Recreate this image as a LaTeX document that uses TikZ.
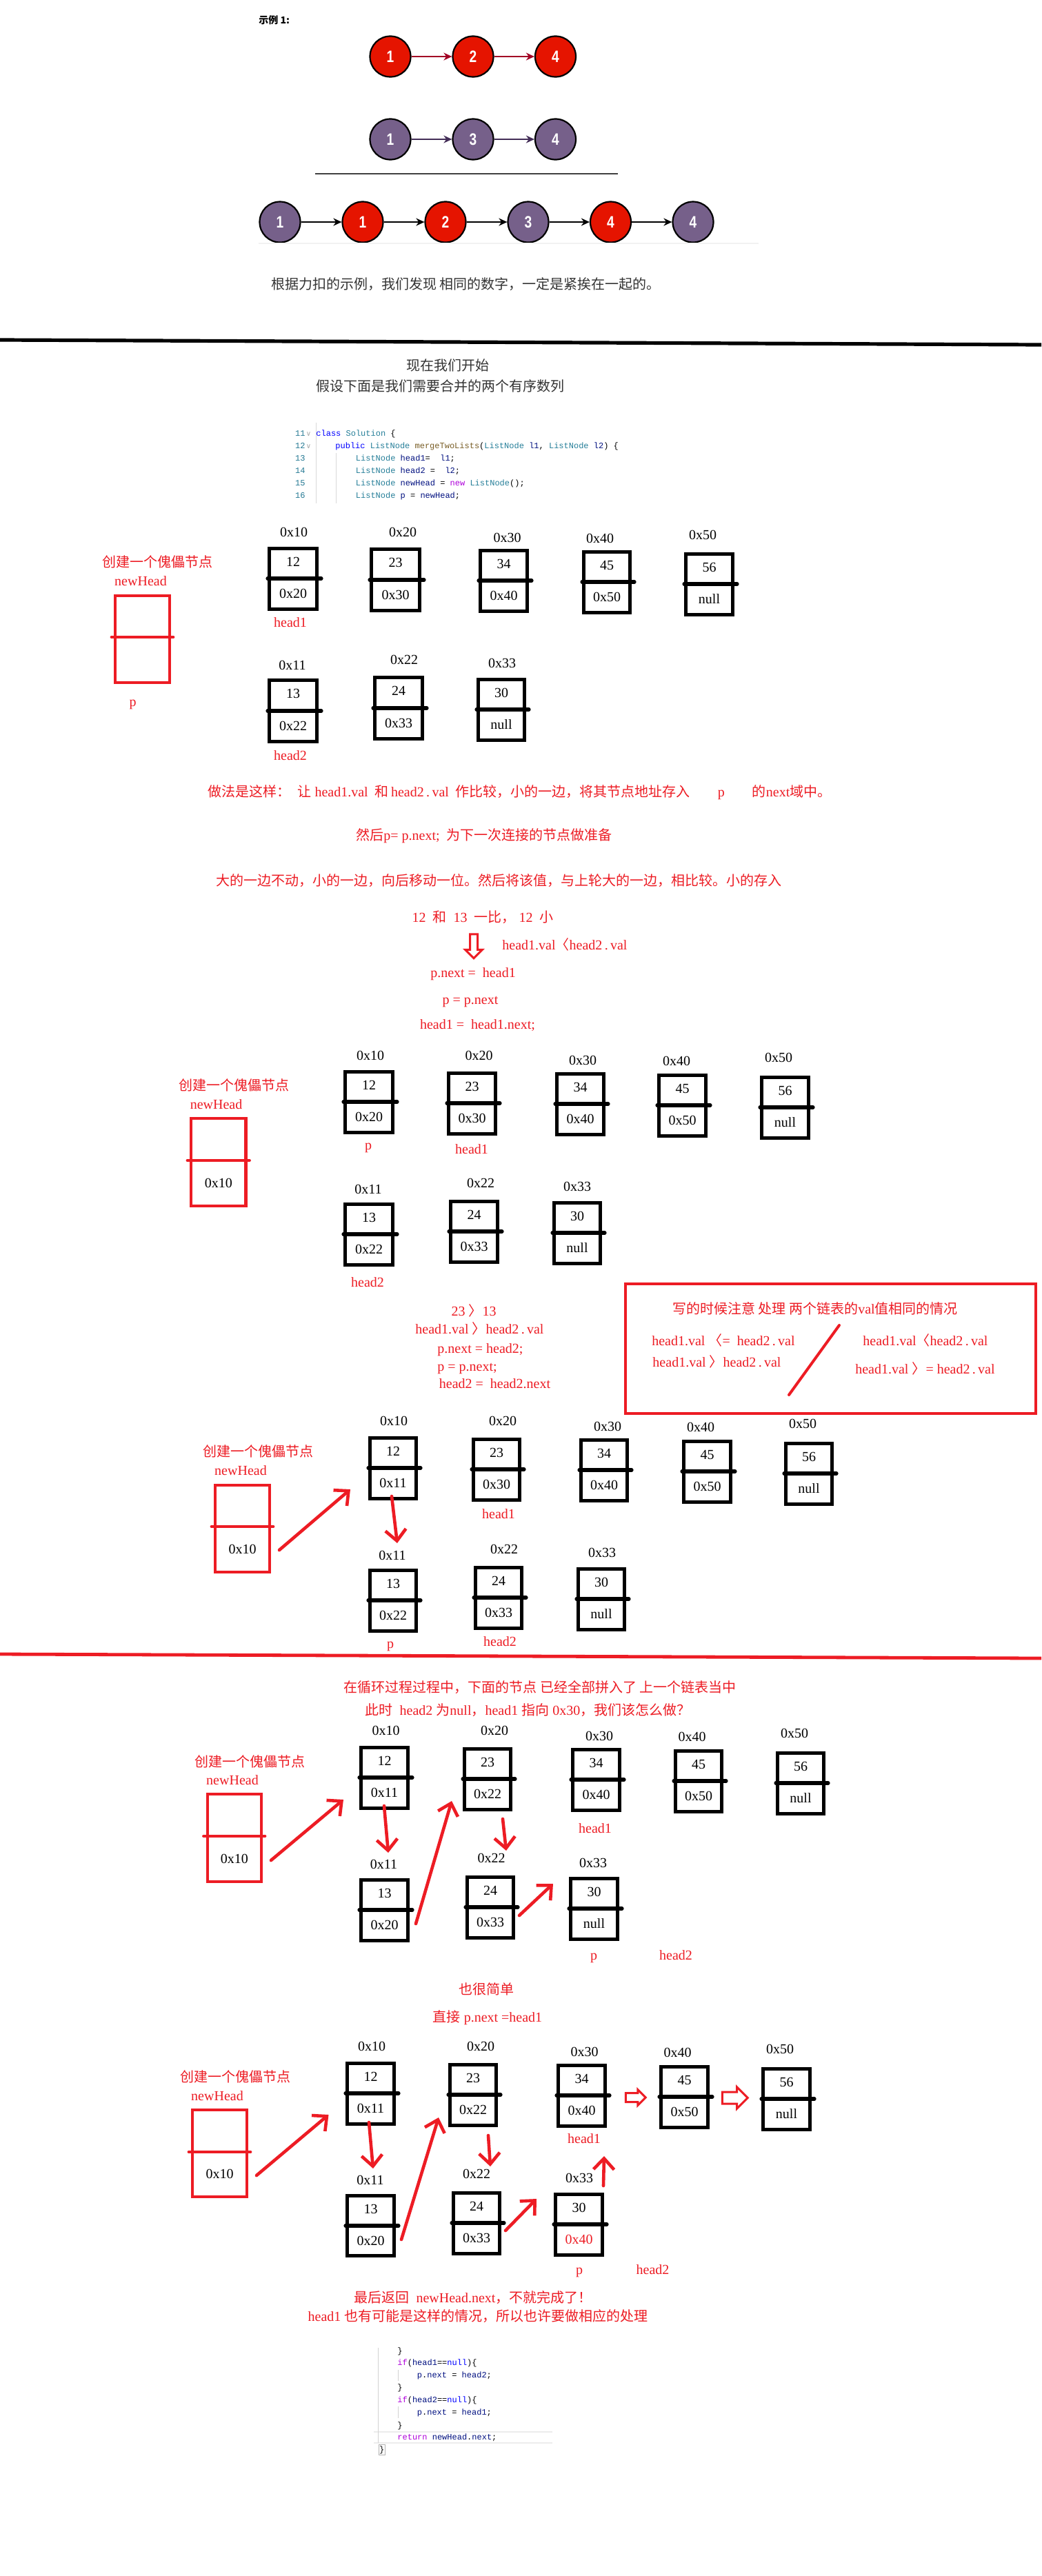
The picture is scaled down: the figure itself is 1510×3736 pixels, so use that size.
\documentclass[tikz,border=0pt]{standalone}
\usepackage{fontspec}
\setmainfont{Liberation Serif}
\newfontfamily\cjk{Noto Sans CJK SC}
\newfontfamily\codefont{Liberation Mono}
\newfontfamily\numfont{Liberation Sans}[FakeStretch=0.8]
\newfontfamily\symfont{DejaVu Sans}
\usetikzlibrary{arrows.meta,shapes.arrows}
\definecolor{pred}{RGB}{237,28,36}
\definecolor{cred}{HTML}{E51400}
\definecolor{cpur}{HTML}{76608A}
\definecolor{adred}{HTML}{A20025}
\definecolor{adpur}{HTML}{432D57}
\definecolor{kwblue}{HTML}{0000FF}
\definecolor{tyteal}{HTML}{267F99}
\definecolor{fnbrown}{HTML}{795E26}
\definecolor{varblue}{HTML}{001080}
\definecolor{kwpurp}{HTML}{AF00DB}
\definecolor{lnum}{HTML}{237893}
\definecolor{txtgray}{HTML}{333333}
\newcommand\zh[1]{{\cjk #1}}
\tikzset{
  lbl/.style={inner sep=0pt, text height=7pt, text depth=1.8pt, font=\fontsize{10pt}{12pt}\selectfont},
  rtxt/.style={lbl, text=pred},
  zhtxt/.style={lbl, font=\cjk\fontsize{10pt}{12pt}\selectfont},
  rzh/.style={zhtxt, text=pred},
  llbox/.style={draw=black, line width=2.6pt, inner sep=0pt, outer sep=0pt},
  lldiv/.style={draw=black, line width=2.6pt, line cap=round},
  dmbox/.style={draw=pred, line width=2.2pt, inner sep=0pt, outer sep=0pt},
  dmdiv/.style={draw=pred, line width=2.4pt, line cap=round},
  circR/.style={circle, draw=black, line width=1.1pt, fill=cred, minimum size=29.5pt, inner sep=0pt, text=white, font=\numfont\bfseries\fontsize{12pt}{14pt}\selectfont},
  circP/.style={circR, fill=cpur},
  carrow/.style={line width=1pt, -{Stealth[length=6pt,width=5.5pt]}},
  rarrow/.style={draw=pred, line width=2.3pt, line cap=round, line join=round, -{Straight Barb[length=8pt,width=15pt]}},
  hollow/.style={single arrow, draw=pred, fill=white, line width=1.5pt, single arrow head indent=0pt},
  codetxt/.style={inner sep=0pt, anchor=west, text height=5pt, text depth=1.4pt, font=\codefont\fontsize{6pt}{7pt}\selectfont},
}
% name, x1, y1, x2, y2, ydiv, top, bottom
\newcommand\ListBox[8]{%
  \node[llbox, minimum width={(#4-#2)*0.5pt-2.6pt}, minimum height={(#5-#3)*0.5pt-2.6pt}] (#1) at ({(#2+#4)/2},{(#3+#5)/2}) {};
  \draw[lldiv] (#2,#6) -- ({#4+4},#6);
  \node[lbl] (#1v) at ({(#2+#4)/2},{(#3+#6)/2}) {#7};
  \node[lbl] (#1n) at ({(#2+#4)/2},{(#6+#5)/2}) {#8};
}
% name, x1, y1, x2, y2, ydiv, bottom
\newcommand\DummyBox[7]{%
  \node[dmbox, minimum width={(#4-#2)*0.5pt-2.2pt}, minimum height={(#5-#3)*0.5pt-2.2pt}] (#1) at ({(#2+#4)/2},{(#3+#5)/2}) {};
  \draw[dmdiv] ({#2-3},#6) -- ({#4+3},#6);
  \node[lbl] (#1n) at ({(#2+#4)/2},{(#6+#5)/2}) {#7};
}
\begin{document}
\begin{tikzpicture}[x=0.5pt,y=-0.5pt]
\fill[white] (0,0) rectangle (1510,3736);
\useasboundingbox (0,0) rectangle (1510,3736);

% ---------------- example 1 ----------------
\node[inner sep=0pt, anchor=west, font=\cjk\bfseries\fontsize{7pt}{8pt}\selectfont] (ex1) at (375,29) {示例 1:};
\node[circR] (r1) at (566,82) {1};
\node[circR] (r2) at (686,82) {2};
\node[circR] (r4) at (805.5,82) {4};
\draw[carrow, adred] (r1) -- (r2);
\draw[carrow, adred] (r2) -- (r4);
\node[circP] (q1) at (566,202) {1};
\node[circP] (q3) at (686,202) {3};
\node[circP] (q4) at (805.5,202) {4};
\draw[carrow, adpur] (q1) -- (q3);
\draw[carrow, adpur] (q3) -- (q4);
\draw[line width=1.2pt, black!75] (456.6,252) -- (895.7,252);
\node[circP] (m1) at (406,322) {1};
\node[circR] (m2) at (526,322) {1};
\node[circR] (m3) at (646,322) {2};
\node[circP] (m4) at (766,322) {3};
\node[circR] (m5) at (885.5,322) {4};
\node[circP] (m6) at (1005,322) {4};
\draw[carrow] (m1) -- (m2);
\draw[carrow] (m2) -- (m3);
\draw[carrow] (m3) -- (m4);
\draw[carrow] (m4) -- (m5);
\draw[carrow] (m5) -- (m6);
\draw[gray!10, line width=1pt] (375,353) -- (1100,353);
\node[zhtxt, text=txtgray] (t1) at (675.5,414) {根据力扣的示例，我们发现 相同的数字，一定是紧挨在一起的。};

\draw[line width=2.6pt] (0,493) -- (1510,500);

\node[zhtxt, text=txtgray] (t2) at (649,532) {现在我们开始};
\node[zhtxt, text=txtgray] (t3) at (638,562) {假设下面是我们需要合并的两个有序数列};

% code block 1
\draw[gray!30, line width=0.5pt] (458,613) -- (458,730);
\draw[gray!30, line width=0.5pt] (487.5,657) -- (487.5,730);
\node[codetxt, anchor=east, text=lnum] (l11) at (443,629) {11};
\node[codetxt, anchor=east, text=lnum] (l12) at (443,647) {12};
\node[codetxt, anchor=east, text=lnum] (l13) at (443,665) {13};
\node[codetxt, anchor=east, text=lnum] (l14) at (443,683) {14};
\node[codetxt, anchor=east, text=lnum] (l15) at (443,701) {15};
\node[codetxt, anchor=east, text=lnum] (l16) at (443,719) {16};
\node[codetxt, anchor=center, text=gray!70, font=\symfont\fontsize{5pt}{6pt}\selectfont] (f11) at (447.5,629) {∨};
\node[codetxt, anchor=center, text=gray!70, font=\symfont\fontsize{5pt}{6pt}\selectfont] (f12) at (447.5,647) {∨};
\node[codetxt] (c11) at (458,629) {\textcolor{kwblue}{class} \textcolor{tyteal}{Solution} \{};
\node[codetxt] (c12) at (486,647) {\textcolor{kwblue}{public} \textcolor{tyteal}{ListNode} \textcolor{fnbrown}{mergeTwoLists}(\textcolor{tyteal}{ListNode} \textcolor{varblue}{l1}, \textcolor{tyteal}{ListNode} \textcolor{varblue}{l2}) \{};
\node[codetxt] (c13) at (515.5,665) {\textcolor{tyteal}{ListNode} \textcolor{varblue}{head1}=\ \ \textcolor{varblue}{l1};};
\node[codetxt] (c14) at (515.5,683) {\textcolor{tyteal}{ListNode} \textcolor{varblue}{head2} =\ \ \textcolor{varblue}{l2};};
\node[codetxt] (c15) at (515.5,701) {\textcolor{tyteal}{ListNode} \textcolor{varblue}{newHead} = \textcolor{kwpurp}{new} \textcolor{tyteal}{ListNode}();};
\node[codetxt] (c16) at (515.5,719) {\textcolor{tyteal}{ListNode} \textcolor{varblue}{p} = \textcolor{varblue}{newHead};};

% ---------------- section A ----------------
\node[rzh] (aa) at (228,817) {创建一个傀儡节点};
\node[rtxt] (anh) at (204,844) {newHead};
\DummyBox{adm}{165}{862}{248}{992}{924}{}
\node[rtxt] (ap) at (192.6,1019) {p};
\node[lbl] (aL10) at (426,773) {0x10};
\node[lbl] (aL20) at (584,773) {0x20};
\node[lbl] (aL30) at (735.5,781) {0x30};
\node[lbl] (aL40) at (870,782) {0x40};
\node[lbl] (aL50) at (1019,777) {0x50};
\node[lbl] (aL11) at (424,966) {0x11};
\node[lbl] (aL22) at (586,958) {0x22};
\node[lbl] (aL33) at (728,963) {0x33};
\ListBox{a10}{388}{793}{462}{886}{839}{12}{0x20}
\ListBox{a20}{536}{794}{611}{888}{841}{23}{0x30}
\ListBox{a30}{694}{796}{767}{889}{842}{34}{0x40}
\ListBox{a40}{844}{798}{916}{891}{844}{45}{0x50}
\ListBox{a50}{992}{801}{1065}{894}{847}{56}{null}
\ListBox{a11}{388}{984}{462}{1078}{1031}{13}{0x22}
\ListBox{a22}{541}{980}{615}{1074}{1027}{24}{0x33}
\ListBox{a33}{691}{983}{763}{1076}{1029}{30}{null}
\node[rtxt] (ah1) at (421,904) {head1};
\node[rtxt] (ah2) at (421,1097) {head2};

% ---------------- explanation ----------------
\node[rtxt] (t41) at (753.5,1150) {\zh{做法是这样：}\ \ \zh{让}\ head1.val\ \ \zh{和}\,head2\,.\,val\ \ \zh{作比较，小的一边，将其节点地址存入}\qquad p\qquad\zh{的}next\zh{域中。}};
\node[rtxt] (t42) at (702,1213) {\zh{然后}p= p.next;\ \ \zh{为下一次连接的节点做准备}};
\node[rzh] (t43) at (723,1279) {大的一边不动，小的一边，向后移动一位。然后将该值，与上轮大的一边，相比较。小的存入};
\node[rtxt] (t44) at (700,1332) {12\ \ \zh{和}\ \ 13\ \ \zh{一比，}\ 12\ \ \zh{小}};
\node[hollow, minimum height=17.5pt, minimum width=11pt, inner sep=2pt, single arrow head extend=3.5pt, shape border rotate=270] (hdown) at (687,1369.5) {};
\node[rtxt] (t45) at (819,1372) {head1.val\zh{〈}head2\,.\,val};
\node[rtxt] (t46) at (686,1412) {p.next\ =\ \ head1};
\node[rtxt] (t47) at (682,1451) {p = p.next};
\node[rtxt] (t48) at (692.5,1487) {head1 =\ \ head1.next;};

% ---------------- section B ----------------
\node[rzh] (ba) at (339,1576) {创建一个傀儡节点};
\node[rtxt] (bnh) at (313.6,1603) {newHead};
\DummyBox{bdm}{275}{1620}{358.5}{1751}{1683}{0x10}
\node[lbl] (bL10) at (537,1532) {0x10};
\node[lbl] (bL20) at (694.6,1532) {0x20};
\node[lbl] (bL30) at (845,1539) {0x30};
\node[lbl] (bL40) at (981,1540) {0x40};
\node[lbl] (bL50) at (1129,1535) {0x50};
\node[lbl] (bL11) at (534,1726) {0x11};
\node[lbl] (bL22) at (697,1717) {0x22};
\node[lbl] (bL33) at (837,1722) {0x33};
\ListBox{b10}{498}{1552}{572}{1645}{1598}{12}{0x20}
\ListBox{b20}{648}{1554}{721}{1647}{1600}{23}{0x30}
\ListBox{b30}{805}{1555}{878}{1648}{1601}{34}{0x40}
\ListBox{b40}{953}{1557}{1026}{1650}{1603}{45}{0x50}
\ListBox{b50}{1102}{1560}{1175}{1653}{1606}{56}{null}
\ListBox{b11}{498}{1744}{572}{1837}{1790}{13}{0x22}
\ListBox{b22}{651}{1740}{724}{1833}{1786}{24}{0x33}
\ListBox{b33}{801}{1742}{873}{1835}{1788}{30}{null}
\node[rtxt] (bp) at (534,1662) {p};
\node[rtxt] (bh1) at (684,1668) {head1};
\node[rtxt] (bh2) at (533,1861) {head2};

% ---------------- comparison texts ----------------
\node[rtxt] (t61) at (687,1903) {23 \zh{〉}13};
\node[rtxt] (t62) at (695.5,1929) {head1.val \zh{〉}head2\,.\,val};
\node[rtxt] (t63) at (696.5,1957) {p.next = head2;};
\node[rtxt] (t64) at (677.5,1983) {p = p.next;};
\node[rtxt] (t65) at (717.5,2008) {head2 =\ \ head2.next};

\node[draw=pred, line width=2pt, inner sep=0pt, minimum width=297.3pt, minimum height=94pt] (notebox) at (1204.3,1956) {};
\node[rtxt] (n1) at (1182,1900) {\zh{写的时候注意 处理 两个链表的}val\zh{值相同的情况}};
\node[rtxt] (n2) at (1049,1946) {head1.val \zh{〈}=\ \ head2\,.\,val};
\node[rtxt] (n3) at (1039.5,1977) {head1.val \zh{〉}head2\,.\,val};
\node[rtxt] (n4) at (1342,1946) {head1.val\zh{〈}head2\,.\,val};
\node[rtxt] (n5) at (1341.5,1987) {head1.val \zh{〉}= head2\,.\,val};
\coordinate (sl1) at (1217,1922);
\coordinate (sl2) at (1144,2023);
\draw[pred, line width=2pt, line cap=round] (sl1) -- (sl2);

% ---------------- section C ----------------
\node[rzh] (ca) at (374,2107) {创建一个傀儡节点};
\node[rtxt] (cnh) at (349,2134) {newHead};
\DummyBox{cdm}{310}{2152}{393}{2282}{2214}{0x10}
\node[lbl] (cL10) at (571,2062) {0x10};
\node[lbl] (cL20) at (729,2062) {0x20};
\node[lbl] (cL30) at (881,2070) {0x30};
\node[lbl] (cL40) at (1016,2071) {0x40};
\node[lbl] (cL50) at (1164,2066) {0x50};
\node[lbl] (cL11) at (569,2257) {0x11};
\node[lbl] (cL22) at (731,2248) {0x22};
\node[lbl] (cL33) at (873,2253) {0x33};
\ListBox{c10}{534}{2083}{606}{2176}{2129}{12}{0x11}
\ListBox{c20}{684}{2085}{756}{2178}{2131}{23}{0x30}
\ListBox{c30}{840}{2086}{912}{2179}{2132}{34}{0x40}
\ListBox{c40}{989}{2088}{1062}{2181}{2134}{45}{0x50}
\ListBox{c50}{1137}{2091}{1209}{2184}{2137}{56}{null}
\ListBox{c11}{534}{2275}{606}{2368}{2321}{13}{0x22}
\ListBox{c22}{687}{2271}{759}{2364}{2317}{24}{0x33}
\ListBox{c33}{836}{2273}{908}{2366}{2319}{30}{null}
\node[rtxt] (ch1) at (723,2197) {head1};
\node[rtxt] (cp) at (566,2385) {p};
\node[rtxt] (ch2) at (725,2382) {head2};
\coordinate (A1s) at (405,2248); \coordinate (A1e) at (508,2160);
\coordinate (A2s) at (568,2170); \coordinate (A2e) at (576,2238);
\draw[rarrow] (A1s) -- (A1e);
\draw[rarrow] (A2s) -- (A2e);

\draw[pred, line width=2.4pt] (0,2399) -- (1510,2405);

% ---------------- section D ----------------
\node[rzh] (t81) at (783,2449) {在循环过程过程中，下面的节点 已经全部拼入了 上一个链表当中};
\node[rtxt] (t82) at (765.5,2482) {\zh{此时}\ \ head2 \zh{为}null\zh{，}head1 \zh{指向} 0x30\zh{，我们该怎么做？}};
\node[rzh] (da) at (362,2557) {创建一个傀儡节点};
\node[rtxt] (dnh) at (337,2583) {newHead};
\DummyBox{ddm}{298.5}{2600}{381}{2731}{2663}{0x10}
\node[lbl] (dL10) at (559.5,2511) {0x10};
\node[lbl] (dL20) at (717,2511) {0x20};
\node[lbl] (dL30) at (869,2519) {0x30};
\node[lbl] (dL40) at (1003.5,2520) {0x40};
\node[lbl] (dL50) at (1152,2515) {0x50};
\node[lbl] (dL11) at (556.6,2705) {0x11};
\node[lbl] (dL22) at (712.6,2696) {0x22};
\node[lbl] (dL33) at (860,2703) {0x33};
\ListBox{d10}{521}{2532}{594}{2625}{2578}{12}{0x11}
\ListBox{d20}{671}{2534}{743}{2627}{2580}{23}{0x22}
\ListBox{d30}{828}{2535}{901}{2628}{2581}{34}{0x40}
\ListBox{d40}{977}{2537}{1049}{2630}{2583}{45}{0x50}
\ListBox{d50}{1125}{2540}{1197}{2633}{2586}{56}{null}
\ListBox{d11}{521}{2724}{594}{2817}{2770}{13}{0x20}
\ListBox{d22}{675}{2720}{747}{2813}{2766}{24}{0x33}
\ListBox{d33}{825}{2722}{898}{2815}{2768}{30}{null}
\node[rtxt] (dh1) at (863,2653) {head1};
\node[rtxt] (dp) at (861,2837) {p};
\node[rtxt] (dh2) at (980,2837) {head2};
\coordinate (B1s) at (393,2698); \coordinate (B1e) at (498,2610);
\coordinate (B2s) at (557,2619); \coordinate (B2e) at (563,2687);
\coordinate (B3s) at (603,2790); \coordinate (B3e) at (655,2612);
\coordinate (B4s) at (729,2638); \coordinate (B4e) at (734,2684);
\coordinate (B5s) at (753,2778); \coordinate (B5e) at (802,2732);
\draw[rarrow] (B1s) -- (B1e);
\draw[rarrow] (B2s) -- (B2e);
\draw[rarrow] (B3s) -- (B3e);
\draw[rarrow] (B4s) -- (B4e);
\draw[rarrow] (B5s) -- (B5e);

% ---------------- section E ----------------
\node[rzh] (t91) at (705,2887) {也很简单};
\node[rtxt] (t92) at (707,2927) {\zh{直接} p.next =head1};
\node[rzh] (ea) at (341,3014) {创建一个傀儡节点};
\node[rtxt] (enh) at (315,3041) {newHead};
\DummyBox{edm}{277}{3058}{360}{3188}{3121}{0x10}
\node[lbl] (eL10) at (539,2969) {0x10};
\node[lbl] (eL20) at (697,2969) {0x20};
\node[lbl] (eL30) at (847.6,2977) {0x30};
\node[lbl] (eL40) at (982.5,2978) {0x40};
\node[lbl] (eL50) at (1131,2973) {0x50};
\node[lbl] (eL11) at (537,3163) {0x11};
\node[lbl] (eL22) at (691,3154) {0x22};
\node[lbl] (eL33) at (840,3160) {0x33};
\ListBox{e10}{501}{2990}{574}{3083}{3036}{12}{0x11}
\ListBox{e20}{650}{2992}{722}{3085}{3038}{23}{0x22}
\ListBox{e30}{807}{2993}{880}{3086}{3039}{34}{0x40}
\ListBox{e40}{956}{2995}{1029}{3088}{3041}{45}{0x50}
\ListBox{e50}{1104}{2998}{1177}{3091}{3044}{56}{null}
\ListBox{e11}{501}{3182}{574}{3274}{3228}{13}{0x20}
\ListBox{e22}{655}{3178}{727}{3271}{3224}{24}{0x33}
\ListBox{e33}{803}{3180}{876}{3273}{3226}{30}{\textcolor{pred}{0x40}}
\node[rtxt] (eh1) at (847,3103) {head1};
\node[rtxt] (ep) at (840,3293) {p};
\node[rtxt] (eh2) at (946.6,3293) {head2};
\node[hollow, minimum height=14.5pt, minimum width=10pt, inner sep=2.5pt, single arrow head extend=2.5pt] (hr1) at (918.5,3042) {};
\node[hollow, minimum height=18.5pt, minimum width=14.5pt, inner sep=3.5pt, single arrow head extend=3.6pt] (hr2) at (1061.5,3042.5) {};
\coordinate (C1s) at (372,3155); \coordinate (C1e) at (476.5,3067);
\coordinate (C2s) at (535,3078); \coordinate (C2e) at (541,3145);
\coordinate (C3s) at (582,3248); \coordinate (C3e) at (636,3071);
\coordinate (C4s) at (708,3097); \coordinate (C4e) at (711,3142);
\coordinate (C5s) at (733,3235); \coordinate (C5e) at (778,3189);
\coordinate (C6s) at (875,3170); \coordinate (C6e) at (876,3127);
\draw[rarrow] (C1s) -- (C1e);
\draw[rarrow] (C2s) -- (C2e);
\draw[rarrow] (C3s) -- (C3e);
\draw[rarrow] (C4s) -- (C4e);
\draw[rarrow] (C5s) -- (C5e);
\draw[rarrow] (C6s) -- (C6e);

% ---------------- final ----------------
\node[rtxt] (t101) at (686,3334) {\zh{最后返回}\ \ newHead.next\zh{，不就完成了！}};
\node[rtxt] (t102) at (693,3361) {head1 \zh{也有可能是这样的情况，所以也许要做相应的处理}};

\draw[gray!15, line width=1pt] (542,3527) -- (801,3527);
\draw[gray!15, line width=1pt] (542,3543) -- (801,3543);
\draw[gray!35, line width=0.5pt] (548.5,3405) -- (548.5,3543);
\draw[gray!35, line width=0.5pt] (577,3437) -- (577,3453);
\draw[gray!35, line width=0.5pt] (577,3490) -- (577,3507);
\node[codetxt] (bc1) at (576,3410) {\}};
\node[codetxt] (bc2) at (576,3427) {\textcolor{kwpurp}{if}(\textcolor{varblue}{head1}==\textcolor{kwblue}{null})\{};
\node[codetxt] (bc3) at (604.5,3445) {\textcolor{varblue}{p}.\textcolor{varblue}{next} = \textcolor{varblue}{head2};};
\node[codetxt] (bc4) at (576,3463) {\}};
\node[codetxt] (bc5) at (576,3481) {\textcolor{kwpurp}{if}(\textcolor{varblue}{head2}==\textcolor{kwblue}{null})\{};
\node[codetxt] (bc6) at (604.5,3499) {\textcolor{varblue}{p}.\textcolor{varblue}{next} = \textcolor{varblue}{head1};};
\node[codetxt] (bc7) at (576,3518) {\}};
\node[codetxt] (bc8) at (576,3535) {\textcolor{kwpurp}{return} \textcolor{varblue}{newHead}.\textcolor{varblue}{next};};
\node[codetxt, draw=gray!60, line width=0.4pt, inner sep=0.4pt] (bc9) at (549,3553) {\}};
\end{tikzpicture}
\end{document}
